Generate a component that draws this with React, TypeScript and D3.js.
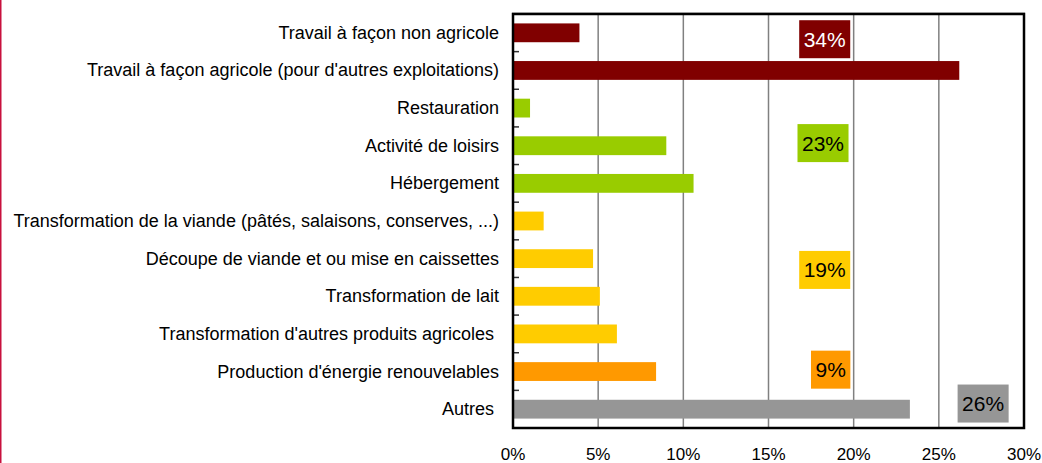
import React, { useEffect, useRef } from 'react';
import * as d3 from 'd3';

// Activités de diversification (part des exploitations)
const categories = [
  'Travail à façon non agricole',
  "Travail à façon agricole (pour d'autres exploitations)",
  'Restauration',
  'Activité de loisirs',
  'Hébergement',
  'Transformation de la viande (pâtés, salaisons, conserves, ...)',
  'Découpe de viande et ou mise en caissettes',
  'Transformation de lait',
  "Transformation d'autres produits agricoles ",
  "Production d'énergie renouvelables",
  'Autres ',
];
const values = [3.9, 26.2, 1.0, 9.0, 10.6, 1.8, 4.7, 5.1, 6.1, 8.4, 23.3];
const barColors = [
  '#800000', '#800000',
  '#99cc00', '#99cc00', '#99cc00',
  '#ffcc00', '#ffcc00', '#ffcc00', '#ffcc00',
  '#ff9900',
  '#969696',
];
const xTicks = [0, 5, 10, 15, 20, 25, 30];

// group totals shown as boxes
const groupLabels = ['34%', '23%', '19%', '9%', '26%'];
const groupAnchor = [0, 3, 6, 9, 10]; // category row the box sits on
const groupShift = [0.17, -0.07, 0.3, -0.05, -0.15]; // in band units
const groupCenter = [18.3, 18.2, 18.3, 18.65, 27.6]; // x centre in %
const groupFill = ['#800000', '#99cc00', '#ffcc00', '#ff9900', '#969696'];
const groupText = ['#ffffff', '#000000', '#000000', '#000000', '#000000'];

const FONT = '"Liberation Sans", Arial, sans-serif';

const App = () => {
  const svgRef = useRef<SVGSVGElement>(null);

  useEffect(() => {
    const width = 1042;
    const height = 463;
    const margin = { top: 14, right: 18, bottom: 35, left: 513 };

    const root = d3.select(svgRef.current);
    root.selectAll('*').remove();
    root.attr('width', width).attr('height', height);

    // thin red rule on the left edge
    root.append('rect')
      .attr('x', 0).attr('y', 0)
      .attr('width', 1.5).attr('height', height)
      .attr('fill', '#c8103e');

    const innerW = width - margin.left - margin.right;
    const innerH = height - margin.top - margin.bottom;

    const x = d3.scaleLinear().domain([0, 30]).range([0, innerW]);
    const y = d3.scaleBand().domain(categories).range([0, innerH]).paddingInner(0.5).paddingOuter(0.25);
    const band = d3.scaleBand().domain(categories).range([0, innerH]);

    const g = root.append('g').attr('transform', `translate(${margin.left},${margin.top})`);

    // grid
    g.selectAll('line.grid')
      .data(xTicks.slice(1, -1))
      .enter()
      .append('line')
      .attr('x1', d => x(d)).attr('x2', d => x(d))
      .attr('y1', 0).attr('y2', innerH)
      .attr('stroke', '#808080')
      .attr('stroke-width', 1.5);

    // bars
    g.selectAll('rect.bar')
      .data(values)
      .enter()
      .append('rect')
      .attr('x', 0)
      .attr('y', (_, i) => y(categories[i])!)
      .attr('width', d => x(d))
      .attr('height', y.bandwidth())
      .attr('fill', (_, i) => barColors[i]);

    // inner ticks between categories
    g.selectAll('line.tick')
      .data(categories.slice(1))
      .enter()
      .append('line')
      .attr('x1', 0).attr('x2', 6)
      .attr('y1', d => band(d)!).attr('y2', d => band(d)!)
      .attr('stroke', '#333')
      .attr('stroke-width', 1.5);

    // frame
    g.append('line')
      .attr('x1', -1).attr('x2', innerW + 1)
      .attr('y1', -1.5).attr('y2', -1.5)
      .attr('stroke', '#d0d0d0').attr('stroke-width', 1);
    g.append('rect')
      .attr('x', 0).attr('y', 0)
      .attr('width', innerW).attr('height', innerH)
      .attr('fill', 'none')
      .attr('stroke', '#000')
      .attr('stroke-width', 2.5);

    // category labels
    g.selectAll('text.cat')
      .data(categories)
      .enter()
      .append('text')
      .attr('x', -14)
      .attr('y', d => band(d)! + band.bandwidth() / 2)
      .attr('text-anchor', 'end')
      .attr('dominant-baseline', 'central')
      .style('white-space', 'pre')
      .attr('font-family', FONT)
      .attr('font-size', 18)
      .attr('fill', '#000')
      .text(d => d);

    // x tick labels
    g.selectAll('text.xt')
      .data(xTicks)
      .enter()
      .append('text')
      .attr('x', d => x(d))
      .attr('y', innerH + 32)
      .attr('text-anchor', 'middle')
      .attr('font-family', FONT)
      .attr('font-size', 17)
      .attr('fill', '#000')
      .text(d => `${d}%`);

    // group total boxes
    groupLabels.forEach((lab, i) => {
      const cy = band(categories[groupAnchor[i]])! + band.bandwidth() * (0.5 + groupShift[i]);
      const cx = x(groupCenter[i]);
      const t = g.append('text')
        .attr('x', cx)
        .attr('y', cy)
        .attr('text-anchor', 'middle')
        .attr('dominant-baseline', 'central')
        .attr('font-family', FONT)
        .attr('font-size', 21)
        .attr('fill', groupText[i])
        .text(lab);
      const w = (t.node() as SVGTextElement).getComputedTextLength() + 9;
      g.insert('rect', () => t.node())
        .attr('x', cx - w / 2)
        .attr('y', cy - 19)
        .attr('width', w)
        .attr('height', 38)
        .attr('fill', groupFill[i]);
    });
  }, []);

  return (
    <svg
      ref={svgRef}
      style={{ position: 'absolute', left: 0, top: 0, background: '#fff' }}
    />
  );
};

export default App;
